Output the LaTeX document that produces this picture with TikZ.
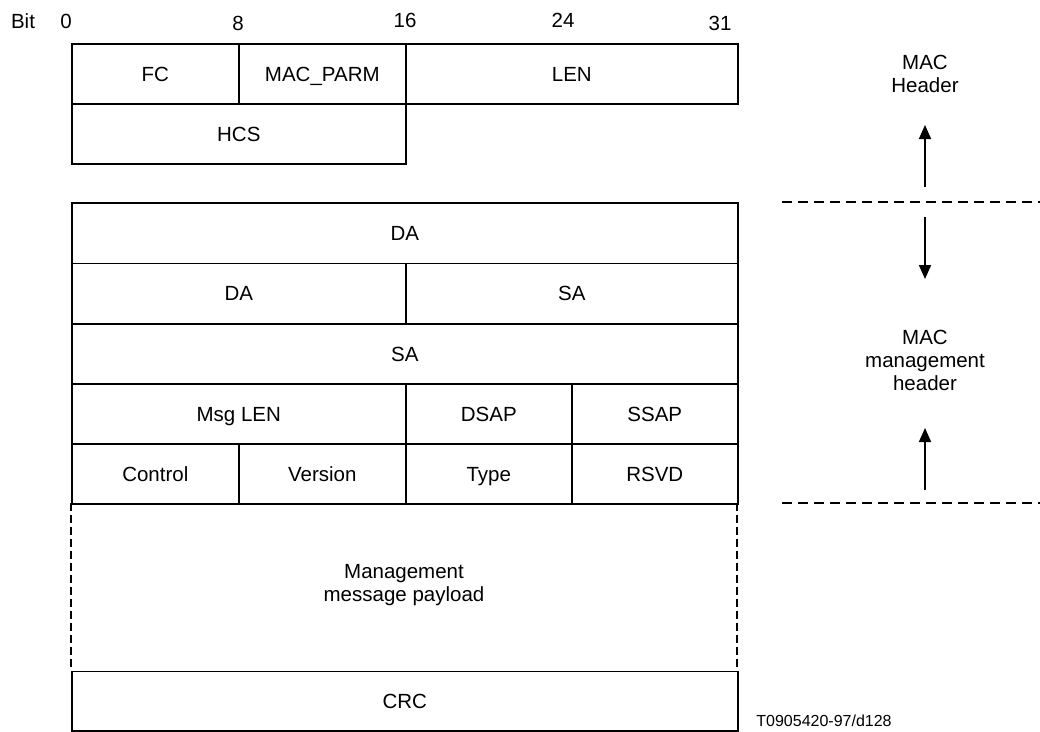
\documentclass[tikz,border=0pt]{standalone}
\usepackage{fontspec}
\setmainfont{Liberation Sans}
\usetikzlibrary{arrows.meta}
\begin{document}
\begin{tikzpicture}[x=1pt,y=-1pt,
  txt/.style={inner sep=0pt, font=\fontsize{20.5}{23}\selectfont},
  lbl/.style={txt, text height=14.7pt, text depth=0pt},
  cell/.style={lbl, draw, line width=1.6pt, rectangle, anchor=north west},
  sep/.style={line width=2pt, dash pattern=on 10pt off 6pt},
  side/.style={line width=2pt, dash pattern=on 8pt off 4pt},
  arr/.style={line width=1.8pt, -{Triangle[width=12pt,length=14pt]}}]
\useasboundingbox (0,0) rectangle (1040,731);
% bit scale
\node[lbl] (bit) at (23,21) {Bit};
\node[lbl] (b0) at (66,21) {0};
\node[lbl] (b8) at (238,23) {8};
\node[lbl] (b16) at (405,20) {16};
\node[lbl] (b24) at (563,20) {24};
\node[lbl] (b31) at (720,23) {31};
% MAC header
\node[cell, minimum width=167pt, minimum height=60pt] (fc) at (71,43) {FC};
\node[cell, minimum width=167pt, minimum height=60pt] (parm) at (238,43) {MAC\_PARM};
\node[cell, minimum width=332pt, minimum height=60pt] (len) at (405,43) {LEN};
\node[cell, minimum width=334pt, minimum height=60pt] (hcs) at (71,103) {HCS};
% MAC management header
\node[cell, minimum width=666pt, minimum height=60.5pt] (da1) at (71,202) {DA};
\node[cell, minimum width=334pt, minimum height=60.5pt] (da2) at (71,262.5) {DA};
\node[cell, minimum width=332pt, minimum height=60.5pt] (sa1) at (405,262.5) {SA};
\node[cell, minimum width=666pt, minimum height=60pt] (sa2) at (71,323) {SA};
\node[cell, minimum width=334pt, minimum height=60pt] (msglen) at (71,383) {Msg LEN};
\node[cell, minimum width=166pt, minimum height=60pt] (dsap) at (405,383) {DSAP};
\node[cell, minimum width=166pt, minimum height=60pt] (ssap) at (571,383) {SSAP};
\node[cell, minimum width=167pt, minimum height=60pt] (ctrl) at (71,443) {Control};
\node[cell, minimum width=167pt, minimum height=60pt] (ver) at (238,443) {Version};
\node[cell, minimum width=166pt, minimum height=60pt] (type) at (405,443) {Type};
\node[cell, minimum width=166pt, minimum height=60pt] (rsvd) at (571,443) {RSVD};
% payload
\node[txt, minimum width=666pt, minimum height=167.5pt, anchor=north west] (pl) at (71,503) {};
\node[txt, align=center] (pltxt) at (404,585) {Management\\message payload};
\draw[side] (pl.north west) -- (pl.south west);
\draw[side] (pl.north east) -- (pl.south east);
\node[cell, minimum width=666pt, minimum height=59.5pt] (crc) at (71,670.5) {CRC};
% right side annotations
\node[txt, align=center] (machdr) at (925,74) {MAC\\Header};
\node[txt, align=center] (mgmthdr) at (925,360) {MAC\\management\\header};
\coordinate (s1l) at (782,202);
\coordinate (s1r) at (1040,202);
\coordinate (s2l) at (782,503);
\coordinate (s2r) at (1040,503);
\draw[sep] (s1l) -- (s1r);
\draw[sep] (s2l) -- (s2r);
\coordinate (a1s) at (925,187);
\coordinate (a1e) at (925,125);
\coordinate (a2s) at (925,217);
\coordinate (a2e) at (925,279);
\coordinate (a3s) at (925,490);
\coordinate (a3e) at (925,428);
\draw[arr] (a1s) -- (a1e);
\draw[arr] (a2s) -- (a2e);
\draw[arr] (a3s) -- (a3e);
% figure reference
\node[inner sep=0pt, font=\fontsize{16}{18}\selectfont] (ref) at (824,720.5) {T0905420-97/d128};
\end{tikzpicture}
\end{document}
